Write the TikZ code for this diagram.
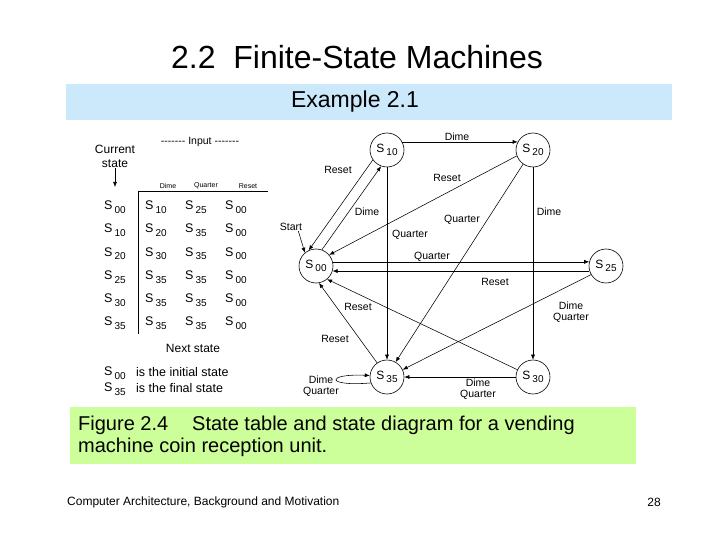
\documentclass[tikz,border=0pt]{standalone}
\usepackage{fontspec}
\setmainfont{Liberation Sans}
\usetikzlibrary{arrows.meta}
\definecolor{Band}{HTML}{CCE9FB}
\definecolor{Caption}{HTML}{CCFF99}
\newcommand{\st}[1]{S\kern2pt\raisebox{-0.55ex}{\fontsize{10}{10}\selectfont #1}}
\tikzset{
    state/.style={circle, draw, line width=0.6pt, minimum size=34pt, inner sep=0pt, font=\fontsize{12}{12}\selectfont},
    arr/.style={-{Latex[length=5pt,width=4pt]}, line width=0.55pt},
    lbl/.style={font=\fontsize{10.5}{11}\selectfont, align=center, inner sep=0pt},
    cell/.style={anchor=west, inner sep=0pt, font=\fontsize{12.5}{13}\selectfont},
    head/.style={inner sep=0pt, font=\fontsize{7}{7}\selectfont},
}

\begin{document}
\begin{tikzpicture}[x=1pt, y=-1pt]
    \useasboundingbox (0,0) rectangle (720,540);
    % title and band
    \node[font=\fontsize{32}{34}\selectfont] (title) at (357,57) {2.2\ \ Finite-State Machines};
    \fill[Band] (66,84) rectangle (672,120);
    \node[font=\fontsize{23}{24}\selectfont] (example) at (355,102) {Example 2.1};

    % state table
    \node[align=center, font=\fontsize{12}{14}\selectfont, inner sep=1pt] (current) at (115,156) {Current\\state};
    \coordinate (curtop) at (115,187);
    \draw[arr] (current.south) -- (curtop);
    \node[font=\fontsize{10.5}{12}\selectfont] (input) at (200,142) {{-}{-}{-}{-}{-}{-}{-} Input {-}{-}{-}{-}{-}{-}{-}};
    \node[head] (hdime) at (168,186) {Dime};
    \node[head] (hquarter) at (206,186) {Quarter};
    \node[head] (hreset) at (248,186) {Reset};
    \draw[line width=0.6pt] (138,191) -- (268,191);
    \draw[line width=0.6pt] (138,191) -- (138,334);
    \foreach \cur/\da/\qu/\re [count=\r] in {00/10/25/00, 10/20/35/00, 20/30/35/00, 25/35/35/00, 30/35/35/00, 35/35/35/00}{
        \node[cell] (cur\r) at (104,{207+23.3*(\r-1)}) {\st{\cur}};
        \node[cell] (da\r) at (145,{207+23.3*(\r-1)}) {\st{\da}};
        \node[cell] (qu\r) at (185,{207+23.3*(\r-1)}) {\st{\qu}};
        \node[cell] (re\r) at (225,{207+23.3*(\r-1)}) {\st{\re}};
    }
    \node[font=\fontsize{12}{14}\selectfont] (next) at (193,348) {Next state};
    \node[cell] (init) at (104,373) {\st{00}};
    \node[cell] (inittxt) at (136,372) {is the initial state};
    \node[cell] (final) at (104,389) {\st{35}};
    \node[cell] (finaltxt) at (136,388) {is the final state};

    % state diagram
    \node[state] (s10) at (387,150) {\st{10}};
    \node[state] (s20) at (533,150) {\st{20}};
    \node[state] (s00) at (316,266) {\st{00}};
    \node[state] (s25) at (606,266) {\st{25}};
    \node[state] (s35) at (387,377) {\st{35}};
    \node[state] (s30) at (533,377) {\st{30}};

    \node[lbl] (start) at (291,227) {Start};
    \draw[arr] ([xshift=-4pt]start.south east) -- (s00.130);

    \draw[arr] (s10.28) -- (s20.152);
    \draw[arr] (s10.215) -- (s00.115);
    \draw[arr] (s00.70) -- (s10.250);
    \draw[arr] (s20.200) -- (s00.40);
    \draw[arr] (s10.south) -- (s35.north);
    \draw[arr] (s20.235) -- (s35.60);
    \draw[arr] (s20.south) -- (s30.north);
    \draw[arr] (s00.14) -- (s25.166);
    \draw[arr] (s25.197) -- (s00.-17);
    \draw[arr] (s25.210) -- (s35.25);
    \draw[arr] (s30.155) -- (s00.-50);
    \draw[arr] (s35.125) -- (s00.-80);
    \draw[arr] (s30.west) -- (s35.east);
    \draw[arr] (s35.200) .. controls +(-45,4) and +(-45,-2) .. (s35.175);

    \node[lbl] (l1) at (457,137) {Dime};
    \node[lbl] (l2) at (338,170) {Reset};
    \node[lbl] (l3) at (367,212) {Dime};
    \node[lbl] (l4) at (447,178) {Reset};
    \node[lbl] (l5) at (462,220) {Quarter};
    \node[lbl] (l6) at (549,212) {Dime};
    \node[lbl] (l7) at (410,235) {Quarter};
    \node[lbl] (l8) at (432,257) {Quarter};
    \node[lbl] (l9) at (495,282) {Reset};
    \node[lbl] (l10) at (571,312) {Dime\\Quarter};
    \node[lbl] (l11) at (358,307) {Reset};
    \node[lbl] (l12) at (335,339) {Reset};
    \node[lbl] (l13) at (321,386) {Dime\\Quarter};
    \node[lbl] (l14) at (478,389) {Dime\\Quarter};

    % caption and footer
    \fill[Caption] (70,407) rectangle (636,464);
    \node[anchor=west, align=left, inner sep=0pt, font=\fontsize{20}{22}\selectfont] (caption) at (78,436)
        {Figure 2.4\hspace{24pt}State table and state diagram for a vending\\machine coin reception unit.};
    \node[anchor=west, inner sep=0pt, font=\fontsize{12}{13}\selectfont] (footer) at (67,502) {Computer Architecture, Background and Motivation};
    \node[inner sep=0pt, font=\fontsize{12}{13}\selectfont] (page) at (654,502) {28};
\end{tikzpicture}
\end{document}
